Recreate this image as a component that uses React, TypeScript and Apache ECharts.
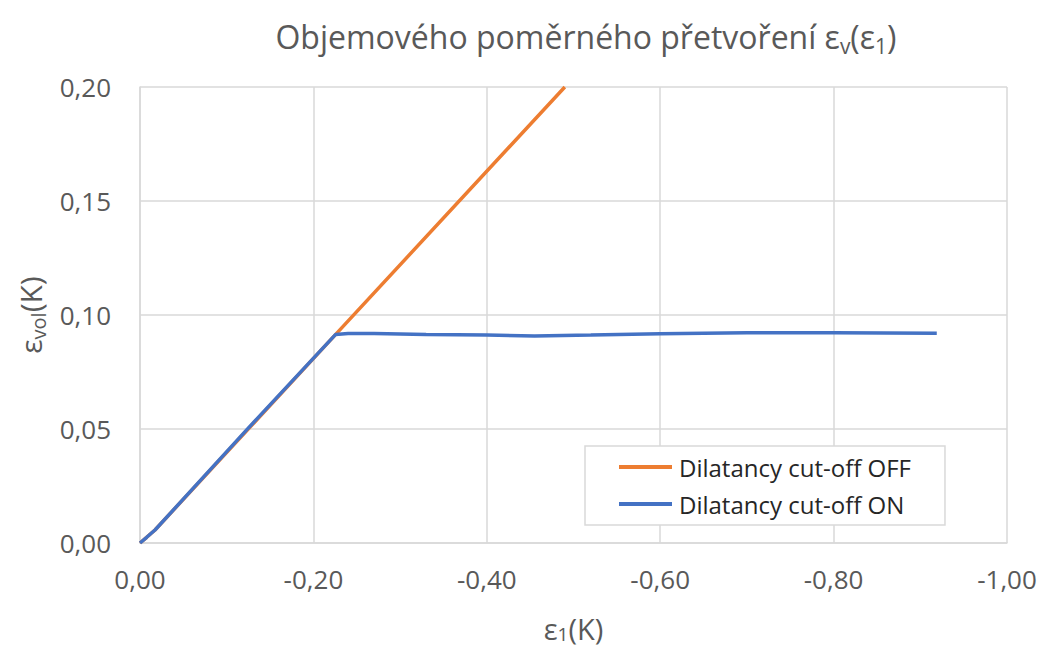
import React, { useEffect, useRef } from "react";
import * as echarts from "echarts";

const seriesNames = ["Dilatancy cut-off OFF", "Dilatancy cut-off ON"];
const offPoints: [number, number][] = [
  [0, 0],
  [-0.0077, 0.0025],
  [-0.0173, 0.0057],
  [-0.2257, 0.0915],
  [-0.49, 0.2],
];
const onPoints: [number, number][] = [
  [0, 0],
  [-0.0077, 0.0025],
  [-0.0173, 0.0057],
  [-0.123, 0.0496],
  [-0.2257, 0.0915],
  [-0.24, 0.0919],
  [-0.27, 0.0919],
  [-0.33, 0.0914],
  [-0.40, 0.0912],
  [-0.455, 0.0908],
  [-0.52, 0.0912],
  [-0.60, 0.0918],
  [-0.70, 0.0922],
  [-0.80, 0.0922],
  [-0.86, 0.0921],
  [-0.919, 0.092],
];
const xTickStep = 0.2;
const yTickStep = 0.05;

const fmt = (v: number) => (Math.abs(v) < 1e-9 ? "0,00" : v.toFixed(2).replace(".", ","));

export default function App() {
  const ref = useRef<HTMLDivElement>(null);
  useEffect(() => {
    if (!ref.current) return;
    const chart = echarts.init(ref.current, null, { renderer: "svg" });
    const font = "'Open Sans', 'Noto Sans', sans-serif";
    const grey = "#595959";
    const subRich = (size: number, sub: number, lh: number) => ({
      a: { fontSize: size, color: grey, fill: grey, fontFamily: font, lineHeight: lh, verticalAlign: "middle" },
      s: { fontSize: sub, color: grey, fill: grey, fontFamily: font, lineHeight: sub, verticalAlign: "bottom" },
    });
    chart.setOption({
      animation: false,
      backgroundColor: "#ffffff",
      graphic: [
        {
          type: "text",
          x: 586,
          y: 36,
          style: {
            text: "{a|Objemového poměrného přetvoření ε}{s|v}{a|(ε}{s|1}{a|)}",
            align: "center",
            verticalAlign: "middle",
            fill: grey,
            rich: subRich(32, 21, 40),
          },
        },
      ],
      grid: {
        left: 140,
        width: 867,
        top: 87,
        height: 456,
        containLabel: false,
        outerBoundsMode: "none",
      },
      legend: {
        orient: "vertical",
        left: 585,
        top: 446,
        padding: [9, 34, 9, 34],
        itemGap: 13,
        itemWidth: 53,
        itemHeight: 4,
        icon: "rect",
        backgroundColor: "#ffffff",
        borderColor: "#d9d9d9",
        borderWidth: 1.5,
        textStyle: { fontSize: 24, color: "#262626", fontFamily: font, padding: [0, 0, 0, 2] },
        data: seriesNames,
      },
      xAxis: {
        type: "value",
        min: -1,
        max: 0,
        interval: xTickStep,
        inverse: true,
        name: "{a|ε}{s|1}{a|(K)}",
        nameLocation: "middle",
        nameGap: 70,
        nameTextStyle: { rich: subRich(29, 19, 30) },
        axisLine: { show: true, onZero: false, lineStyle: { color: "#d9d9d9", width: 1.5 } },
        axisTick: { show: false },
        axisLabel: { formatter: fmt, fontSize: 26, color: grey, fontFamily: font, margin: 23 },
        splitLine: { show: true, lineStyle: { color: "#d9d9d9", width: 1.5 } },
      },
      yAxis: {
        type: "value",
        min: 0,
        max: 0.2,
        interval: yTickStep,
        name: "{a|ε}{s|vol}{a|(K)}",
        nameLocation: "middle",
        nameGap: 87,
        nameRotate: 90,
        nameTextStyle: { rich: subRich(30, 20, 36) },
        axisLine: { show: true, onZero: false, lineStyle: { color: "#d9d9d9", width: 1.5 } },
        axisTick: { show: false },
        axisLabel: { formatter: fmt, fontSize: 26, color: grey, fontFamily: font, margin: 29 },
        splitLine: { show: true, lineStyle: { color: "#d9d9d9", width: 1.5 } },
      },
      series: [
        {
          name: seriesNames[0],
          type: "line",
          data: offPoints,
          symbol: "none",
          lineStyle: { color: "#ED7D31", width: 3.5 },
          itemStyle: { color: "#ED7D31" },
          clip: true,
        },
        {
          name: seriesNames[1],
          type: "line",
          data: onPoints,
          symbol: "none",
          lineStyle: { color: "#4472C4", width: 3.5 },
          itemStyle: { color: "#4472C4" },
          clip: true,
        },
      ],
    });
    return () => chart.dispose();
  }, []);
  return (
    <div
      ref={ref}
      style={{ position: "fixed", left: 0, top: 0, width: 1040, height: 646, background: "#fff" }}
    />
  );
}
